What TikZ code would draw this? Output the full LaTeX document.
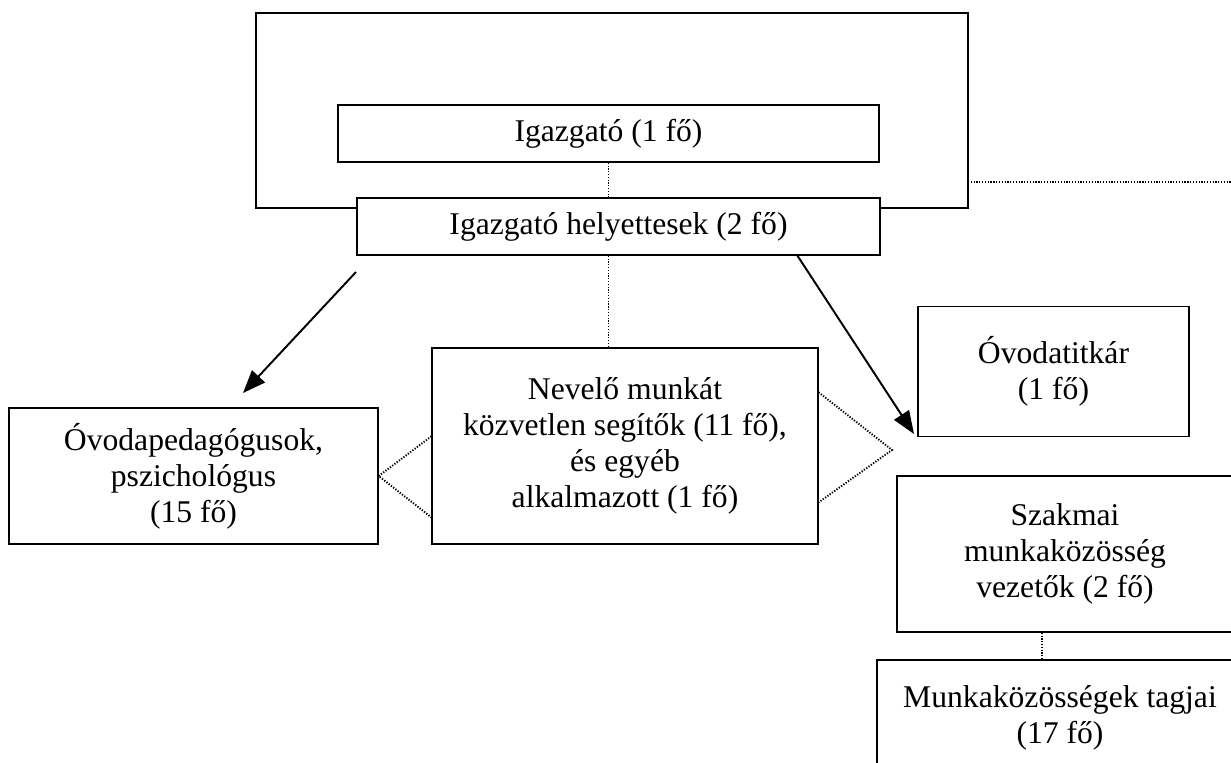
\documentclass[tikz,border=0pt]{standalone}
\usepackage{fontspec}
\setmainfont{Liberation Serif}
\usetikzlibrary{arrows.meta,calc}

\begin{document}
\begin{tikzpicture}[x=0.02cm,y=-0.02cm,
    box/.style={draw,line width=0.8pt,fill=white,align=center,inner sep=0pt,
      font=\fontsize{18}{20.5}\selectfont},
    pont/.style={line width=1.1pt,dash pattern=on 0.7pt off 0.9pt},
    nyil/.style={->,line width=1.1pt}]
  \tikzset{> = {Triangle[length=13pt,width=10pt]}}
  \useasboundingbox (0,0) rectangle (1231,762);
  % keret
  \draw[line width=1.4pt] (256,13) rectangle (968,208);
  \coordinate (keretjobb) at (968,182);
  \coordinate (szel) at (1231,182);
  % dobozok
  \node[box, minimum width=10.82cm, minimum height=1.14cm] (igazgato) at (608.5,133.5) {Igazgató (1 fő)};
  \node[box, minimum width=10.46cm, minimum height=1.14cm] (helyettes) at (618.5,226.5) {Igazgató helyettesek (2 fő)};
  \node[box, minimum width=7.72cm, minimum height=3.92cm] (nevelo) at (625,446)
    {Nevelő munkát\\közvetlen segítők (11 fő),\\és egyéb\\alkalmazott (1 fő)};
  \node[box, minimum width=7.38cm, minimum height=2.72cm] (pedagogus) at (193.5,476)
    {Óvodapedagógusok,\\pszichológus\\(15 fő)};
  \node[box, minimum width=5.42cm, minimum height=2.6cm] (titkar) at (1053.5,371.5)
    {Óvodatitkár\\(1 fő)};
  \node[box, minimum width=6.72cm, minimum height=3.12cm] (szakmai) at (1065,554)
    {Szakmai\\munkaközösség\\vezetők (2 fő)};
  \node[box, minimum width=7.32cm, minimum height=2.3cm] (munka) at (1060,717.5)
    {Munkaközösségek tagjai\\(17 fő)};
  % pontozott vonalak
  \draw[pont] (igazgato.south) -- (igazgato.south |- helyettes.north);
  \draw[pont] (igazgato.south |- helyettes.south) -- (igazgato.south |- nevelo.north);
  \draw[pont] (keretjobb) -- (szel);
  \draw[pont] ($(nevelo.north west)+(0,89)$) -- (pedagogus.east) -- ($(nevelo.north west)+(0,170)$);
  \coordinate (csucs) at (892,450);
  \draw[pont] ($(nevelo.north east)+(0,45)$) -- (csucs) -- ($(nevelo.north east)+(0,155)$);
  \coordinate (sz) at ($(szakmai.south)+(-23,0)$);
  \draw[pont] (sz) -- (sz |- munka.north);
  % nyilak
  \coordinate (h1) at (356,272);
  \coordinate (h1v) at (243,393);
  \draw[nyil] (h1) -- (h1v);
  \coordinate (h2) at (797,255);
  \coordinate (h2v) at (914,434);
  \draw[nyil] (h2) -- (h2v);
\end{tikzpicture}
\end{document}
